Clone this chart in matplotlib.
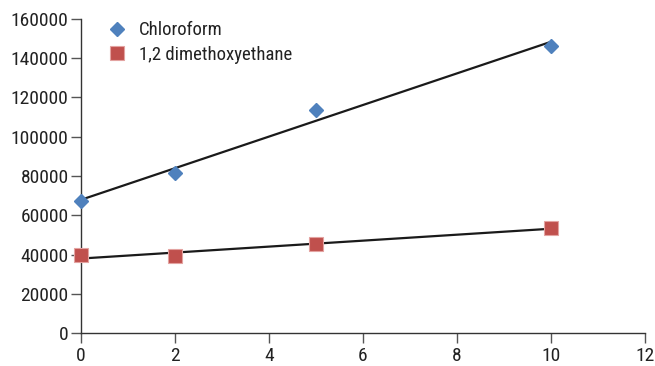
import numpy as np
import matplotlib
matplotlib.use("Agg")
import matplotlib.pyplot as plt

x_vals = [0, 2, 5, 10]
chloroform = [67300, 81300, 113600, 146200]
dme = [39500, 39000, 45600, 53500]
series_names = ["Chloroform", "1,2 dimethoxyethane"]
x_ticks = [0, 2, 4, 6, 8, 10, 12]
y_ticks = [0, 20000, 40000, 60000, 80000, 100000, 120000, 140000, 160000]

plt.rcParams['font.family'] = ['Roboto Condensed', 'Archivo Narrow', 'PT Sans Narrow',
                               'IBM Plex Sans Condensed', 'DejaVu Sans']

fig = plt.figure(figsize=(6.55, 3.66), dpi=100)
ax = fig.add_axes([81/655, 1-333/366, (645-81)/655, (333-19)/366])

xs = np.array(x_vals, dtype=float)
for ys in (chloroform, dme):
    k, b = np.polyfit(xs, np.array(ys, dtype=float), 1)
    xl = np.array([xs.min(), xs.max()])
    ax.plot(xl, k*xl + b, color='#1a1a1a', lw=1.6, zorder=2)

ax.plot(x_vals, chloroform, linestyle='none', marker='D', ms=6.8,
        color='#4F81BD', mec='#4F81BD', label=series_names[0], zorder=3, clip_on=False)
ax.plot(x_vals, dme, linestyle='none', marker='s', ms=10,
        color='#C0504D', mec='#E3A3A1', mew=0.8, label=series_names[1], zorder=3, clip_on=False)

ax.set_xlim(0, 12)
ax.set_ylim(0, 160000)
ax.set_xticks(x_ticks)
ax.set_yticks(y_ticks)
ax.set_xticklabels([str(t) for t in x_ticks])
ax.set_yticklabels([str(t) for t in y_ticks])
for s in ('top', 'right'):
    ax.spines[s].set_visible(False)
for s in ('left', 'bottom'):
    ax.spines[s].set_color('#333333')
    ax.spines[s].set_linewidth(1.0)
ax.tick_params(axis='both', direction='out', length=7, width=1.0, color='#555555',
               labelsize=14, labelcolor='#222222', pad=2)
ax.tick_params(axis='x', pad=3)

leg = ax.legend(loc='upper left', bbox_to_anchor=(0.014, 1.047), frameon=False,
                fontsize=13.5, handlelength=1.2, handletextpad=0.55,
                labelspacing=0.35, numpoints=1)
for t in leg.get_texts():
    t.set_color('#222222')

fig.savefig('out.png', dpi=100)
